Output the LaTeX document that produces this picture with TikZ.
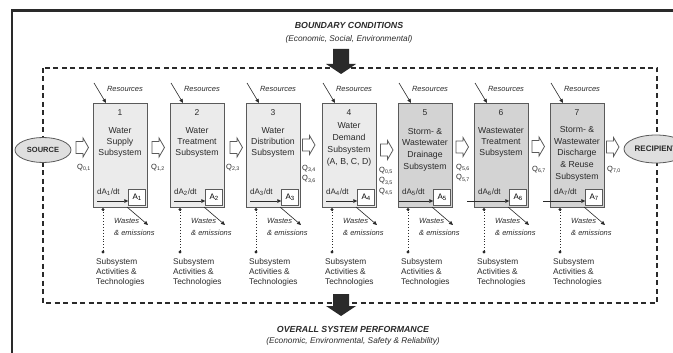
\documentclass[tikz,border=0pt]{standalone}
\usepackage{fontspec}
\setmainfont{Liberation Sans}
\usetikzlibrary{shapes.geometric,arrows.meta}
\definecolor{boxlight}{HTML}{EBEBEB}
\definecolor{boxdark}{HTML}{D3D3D3}
\definecolor{edge}{HTML}{5A5A5A}
\definecolor{ink}{HTML}{2A2A2A}
\definecolor{ovalfill}{HTML}{DFDFDF}
\newcommand{\fsz}[2]{\fontsize{#1}{#2}\selectfont}

\begin{document}
\begin{tikzpicture}[x=1pt,y=-1pt,
  subbox/.style={draw=edge,line width=0.8pt,minimum width=54,minimum height=104,anchor=north west,inner sep=0},
  statebox/.style={draw=edge,line width=0.7pt,fill=white,minimum width=17,minimum height=16,anchor=south east,inner sep=0,font=\fsz{8}{9}},
  numlbl/.style={font=\fsz{8.5}{10},inner sep=0,text=ink},
  title/.style={font=\fsz{8.7}{11},align=center,anchor=north,inner sep=0,text=ink},
  reslbl/.style={font=\itshape\fsz{7.5}{9},inner sep=0,text=ink},
  wastelbl/.style={font=\itshape\fsz{7.5}{12},align=left,anchor=north west,inner sep=0,text=ink},
  actlbl/.style={font=\fsz{8.3}{10},align=left,anchor=north west,inner sep=0,text=ink},
  qlbl/.style={font=\fsz{7.5}{10.5},align=left,anchor=north west,inner sep=0,text=ink},
  tiparrow/.style={-{Triangle[length=4pt,width=3.6pt]},ink,line width=0.6pt},
  blockflow/.style={draw=edge,fill=white,line width=0.8pt,line join=miter},
  bigflow/.style={fill=ink},
  terminal/.style={ellipse,draw=edge,fill=ovalfill,line width=0.8pt,inner sep=0,font=\bfseries\fsz{7.5}{9},text=ink},
  heading/.style={font=\bfseries\itshape\fsz{8.8}{10},inner sep=0,text=ink},
  subheading/.style={font=\itshape\fsz{8.3}{10},inner sep=0,text=ink}
]
\useasboundingbox (0,0) rectangle (673,353);

% outer frame and system boundary
\draw[ink,line width=2.3pt] (12,353) -- (12,10.5) -- (673,10.5);
\draw[ink,line width=1.1pt,dash pattern=on 5pt off 3.5pt] (43,68) rectangle (657,303);

% headings
\node[heading] (bc) at (349,25) {BOUNDARY CONDITIONS};
\node[subheading] (bcs) at (349,39) {(Economic, Social, Environmental)};
\node[heading] (osp) at (353,329) {OVERALL SYSTEM PERFORMANCE};
\node[subheading] (osps) at (353,341) {(Economic, Environmental, Safety \& Reliability)};

% source and recipient
\node[terminal,minimum width=56,minimum height=25] (src) at (43,150) {SOURCE};
\node[terminal,minimum width=64,minimum height=28,font=\bfseries\fsz{8}{9}] (rec) at (656,149) {RECIPIENT};

% subsystems with their common parts
\foreach \i/\x/\f/\ds in {1/93/boxlight/4, 2/170/boxlight/4, 3/246/boxlight/4, 4/322/boxlight/4,
                          5/398/boxdark/1, 6/474/boxdark/-7, 7/550/boxdark/-7} {
  \node[subbox,fill=\f] (b\i) at (\x,103) {};
  \node[numlbl] (n\i) at (\x+27,113) {\i};
  \node[statebox] (a\i) at (\x+53,205.5) {A\textsubscript{\i}};
  % resources
  \coordinate (r\i) at (\x+1,83);
  \coordinate (rt\i) at (\x+13,103);
  \draw[tiparrow] (r\i) -- (rt\i);
  \node[reslbl] (rl\i) at (\x+32,89) {Resources};
  % rate of change of the state
  \node[font=\fsz{8}{9},anchor=west,inner sep=0,text=ink] (dt\i) at (\x+4,192) {dA\textsubscript{\i}/dt};
  \coordinate (s\i) at (\x+\ds,201);
  \draw[tiparrow] (s\i) -- (s\i -| a\i.west);
  % wastes and emissions
  \coordinate (w\i) at (\x+34,207);
  \coordinate (we\i) at (\x+55,225);
  \draw[tiparrow] (w\i) -- (we\i);
  \node[wastelbl] (wl\i) at (\x+21,218) {Wastes\\\& emissions};
  % activities and technologies
  \coordinate (d\i) at (\x+10,209.5);
  \coordinate (e\i) at (\x+10,252);
  \draw[ink,line width=0.9pt,dotted] (d\i) -- (e\i);
  \fill[ink] (d\i) circle (1.6) (e\i) circle (1.6);
  \node[actlbl] (act\i) at (\x+3,258.5) {Subsystem\\Activities \&\\Technologies};
}

% subsystem names
\node[title] (t1) at (120,127.5) {Water\\Supply\\Subsystem};
\node[title] (t2) at (197,127.5) {Water\\Treatment\\Subsystem};
\node[title] (t3) at (273,127.5) {Water\\Distribution\\Subsystem};
\node[title,font=\fsz{8.7}{12}] (t4) at (349,122.5) {Water\\Demand\\Subsystem\\(A, B, C, D)};
\node[title,font=\fsz{8.7}{11.6}] (t5) at (425,128) {Storm- \&\\Wastewater\\Drainage\\Subsystem};
\node[title] (t6) at (501,127.5) {Wastewater\\Treatment\\Subsystem};
\node[title,font=\fsz{8.7}{11.6}] (t7) at (577,126.5) {Storm- \&\\Wastewater\\Discharge\\\& Reuse\\Subsystem};

% flows between the subsystems: hollow block arrows (left end, centre line)
\foreach \fx/\fy in {76/147.5, 152/147.5, 230/147.5, 302.5/145, 380.5/150, 456/147, 532/146.5, 606.5/147} {
  \draw[blockflow] (\fx,\fy-6) -- (\fx+7,\fy-6) -- (\fx+7,\fy-9.5) -- (\fx+12.5,\fy)
    -- (\fx+7,\fy+9.5) -- (\fx+7,\fy+6) -- (\fx,\fy+6) -- cycle;
}

% flow labels
\node[qlbl] (q01) at (77,164) {Q\textsubscript{0,1}};
\node[qlbl] (q12) at (151,164) {Q\textsubscript{1,2}};
\node[qlbl] (q23) at (226,164) {Q\textsubscript{2,3}};
\node[qlbl] (q34) at (302,165) {Q\textsubscript{3,4}\\Q\textsubscript{3,6}};
\node[qlbl] (q45) at (379,167) {Q\textsubscript{0,5}\\Q\textsubscript{3,5}\\Q\textsubscript{4,5}};
\node[qlbl] (q56) at (456,164) {Q\textsubscript{5,6}\\Q\textsubscript{5,7}};
\node[qlbl] (q67) at (532,166) {Q\textsubscript{6,7}};
\node[qlbl] (q70) at (607,166) {Q\textsubscript{7,0}};

% boundary conditions in, performance out
\fill[bigflow] (333,49) -- (349,49) -- (349,64) -- (356,64) -- (341,74) -- (326,64) -- (333,64) -- cycle;
\fill[bigflow] (333,294) -- (349,294) -- (349,306) -- (356,306) -- (341,316) -- (326,306) -- (333,306) -- cycle;
\end{tikzpicture}
\end{document}
